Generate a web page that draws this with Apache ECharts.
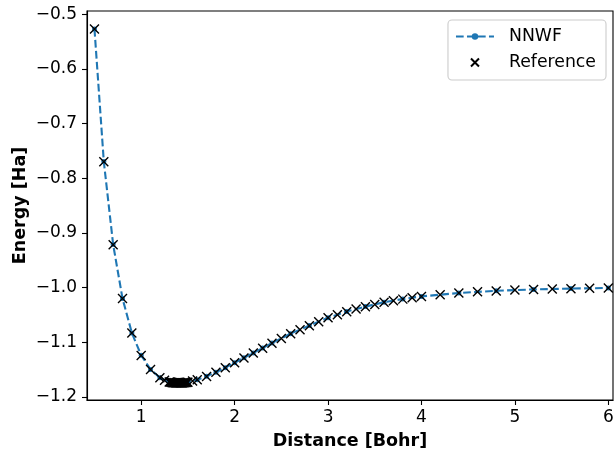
<!DOCTYPE html>
<html>
<head>
<meta charset="utf-8">
<script src="https://cdn.jsdelivr.net/npm/echarts@6/dist/echarts.min.js"></script>
<style>
html,body{margin:0;padding:0;background:#fff;}
#chart{width:616px;height:451px;}
</style>
</head>
<body>
<div id="chart"></div>
<script>
// Reference (exact) energies
const refDist = [0.5,0.6,0.7,0.8,0.9,1.0,1.1,1.2,1.25,
  1.30,1.31,1.32,1.33,1.34,1.35,1.36,1.37,1.38,1.39,1.40,1.41,1.42,1.43,1.44,1.45,1.46,1.47,1.48,1.49,1.50,
  1.55,1.6,1.7,1.8,1.9,2.0,2.1,2.2,2.3,2.4,2.5,2.6,2.7,2.8,2.9,3.0,3.1,3.2,3.3,3.4,3.5,3.6,3.7,3.8,3.9,4.0,
  4.2,4.4,4.6,4.8,5.0,5.2,5.4,5.6,5.8,6.0];
const refEnergy = [-0.5270,-0.7697,-0.9214,-1.0200,-1.0830,-1.1240,-1.1497,-1.1648,-1.1693,
  -1.17239,-1.17279,-1.17316,-1.17347,-1.17374,-1.17396,-1.17415,-1.17428,-1.17439,-1.17445,-1.17447,-1.17446,-1.17440,-1.17432,-1.17420,-1.17405,-1.17387,-1.17365,-1.17341,-1.17314,-1.17284,
  -1.1709,-1.1685,-1.1623,-1.1549,-1.1466,-1.1375,-1.1285,-1.1196,-1.1108,-1.1015,-1.0930,-1.0843,-1.0770,-1.0696,-1.0622,-1.0552,-1.0495,-1.0440,-1.0391,-1.0349,-1.0307,-1.0268,-1.0238,-1.0210,-1.0186,-1.0162,
  -1.0130,-1.0100,-1.0077,-1.0060,-1.0045,-1.0034,-1.0026,-1.0019,-1.0013,-1.0008];

// Neural-network wavefunction energies
const nnwfDist = [0.5,0.6,0.7,0.8,0.9,1.0,1.1,1.2,
  1.30,1.31,1.32,1.33,1.34,1.35,1.36,1.37,1.38,1.39,1.40,1.41,1.42,1.43,1.44,1.45,1.46,1.47,1.48,1.49,1.50,
  1.6,1.7,1.8,1.9,2.0,2.1,2.2,2.3,2.4,2.6,2.8,3.0,3.2,3.4,3.6,3.8,4.0,4.4,4.8,5.2,5.6,6.0];
const nnwfEnergy = [-0.5268,-0.7695,-0.9212,-1.0198,-1.0828,-1.1238,-1.1495,-1.1646,
  -1.17236,-1.17276,-1.17313,-1.17344,-1.17371,-1.17393,-1.17412,-1.17425,-1.17436,-1.17442,-1.17444,-1.17443,-1.17437,-1.17429,-1.17417,-1.17402,-1.17384,-1.17362,-1.17338,-1.17311,-1.17281,
  -1.1683,-1.1621,-1.1547,-1.1464,-1.1373,-1.1283,-1.1194,-1.1106,-1.1013,-1.0841,-1.0694,-1.0550,-1.0438,-1.0347,-1.0266,-1.0208,-1.0160,-1.0098,-1.0058,-1.0032,-1.0017,-1.0006];

const xTicks = [1,2,3,4,5,6];
const yTicks = [-1.2,-1.1,-1.0,-0.9,-0.8,-0.7,-0.6,-0.5];

const FONT = 'DejaVu Sans';
const xMark = 'path://M0,0L10,10M10,0L0,10';

const chart = echarts.init(document.getElementById('chart'), null, {renderer:'canvas'});
chart.setOption({
  animation:false,
  backgroundColor:'#fff',
  textStyle:{fontFamily:FONT},
  grid:{left:87,right:3,top:11,bottom:51,show:true,borderColor:'#000',borderWidth:1.1,
    backgroundColor:'transparent',containLabel:false,outerBoundsMode:'none'},
  xAxis:{
    type:'value', min:0.42, max:6.05,
    name:'Distance [Bohr]', nameLocation:'middle', nameGap:32, nameMoveOverlap:false,
    nameTextStyle:{fontFamily:FONT,fontSize:17.5,fontWeight:'bold',color:'#000'},
    axisLine:{show:true,onZero:false,lineStyle:{color:'#000',width:1.1}},
    axisTick:{show:true,length:5,lineStyle:{color:'#000',width:1.1},customValues:xTicks},
    axisLabel:{fontFamily:FONT,fontSize:17,color:'#000',margin:9,customValues:xTicks,
      formatter:v=>String(Math.round(v))},
    splitLine:{show:false}
  },
  yAxis:{
    type:'value', min:-1.2055, max:-0.494,
    name:'Energy [Ha]', nameLocation:'middle', nameGap:58, nameMoveOverlap:false,
    nameTextStyle:{fontFamily:FONT,fontSize:17.5,fontWeight:'bold',color:'#000'},
    axisLine:{show:true,onZero:false,lineStyle:{color:'#000',width:1.1}},
    axisTick:{show:true,length:5,lineStyle:{color:'#000',width:1.1},customValues:yTicks},
    axisLabel:{fontFamily:FONT,fontSize:17,color:'#000',margin:10,customValues:yTicks,
      formatter:v=>v.toFixed(1).replace('-','\u2212')},
    splitLine:{show:false}
  },
  legend:{
    orient:'vertical', right:10, top:20,
    padding:[8,10,9,7], itemGap:9, itemWidth:38, itemHeight:8,
    backgroundColor:'rgba(255,255,255,0.8)', borderColor:'#cccccc', borderWidth:1.1, borderRadius:4,
    textStyle:{fontFamily:FONT,fontSize:17.3,color:'#000',padding:[0,0,0,10]},
    data:[{name:'NNWF'},{name:'Reference',icon:xMark}]
  },
  series:[
    {
      name:'NNWF', type:'line', z:2,
      data:nnwfDist.map((d,i)=>[d,nnwfEnergy[i]]),
      symbol:'circle', symbolSize:5, showSymbol:true, showAllSymbol:true,
      itemStyle:{color:'#1f77b4'},
      lineStyle:{color:'#1f77b4',width:2.1,type:[7.7,3.3]}
    },
    {
      name:'Reference', type:'scatter', z:3,
      data:refDist.map((d,i)=>[d,refEnergy[i]]),
      symbol:xMark, symbolSize:9,
      itemStyle:{color:'#000',borderColor:'#000',borderWidth:1.4,opacity:1}
    }
  ]
});
</script>
</body>
</html>
